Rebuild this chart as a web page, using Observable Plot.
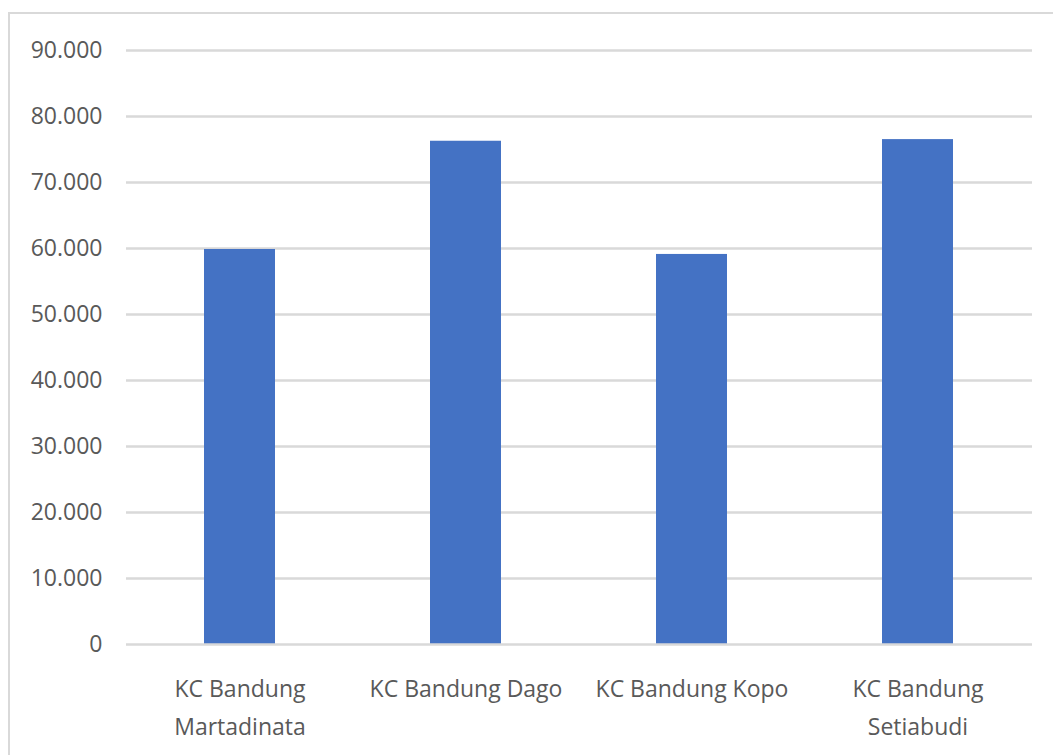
<!DOCTYPE html>
<html>
<head>
<meta charset="utf-8">
<script src="https://cdn.jsdelivr.net/npm/d3@7"></script>
<script src="https://cdn.jsdelivr.net/npm/@observablehq/plot@0.6"></script>
<style>
  html, body { margin: 0; padding: 0; background: #fff; }
  #wrap { position: relative; width: 1053px; height: 755px; overflow: hidden; }
  #border { position: absolute; left: 8px; top: 12px; width: 1100px; height: 800px;
            border-left: 2px solid #d9d9d9; border-top: 2px solid #d9d9d9; box-sizing: border-box; }
  #chart { position: absolute; left: 0; top: 0; }
  #chart text { fill: #595959; }
</style>
</head>
<body>
<div id="wrap">
  <div id="border"></div>
  <div id="chart"></div>
</div>
<script>
// Branches (KC = Kantor Cabang) and their values
const branches = ["KC Bandung Martadinata", "KC Bandung Dago", "KC Bandung Kopo", "KC Bandung Setiabudi"];
const branchLabels = ["KC Bandung\nMartadinata", "KC Bandung Dago", "KC Bandung Kopo", "KC Bandung\nSetiabudi"];
const values = [59850, 76250, 59100, 76500];
const yTicks = [0, 10000, 20000, 30000, 40000, 50000, 60000, 70000, 80000, 90000];

const rows = branches.map((b, i) => ({branch: b, value: values[i]}));

// Indonesian number format: "." as thousands separator
const idFormat = d3.formatLocale({decimal: ",", thousands: ".", grouping: [3], currency: ["Rp", ""]}).format(",");
const labelOf = new Map(branches.map((b, i) => [b, branchLabels[i]]));

const font = "Open Sans, Lato, sans-serif";

const chart = Plot.plot({
  width: 1053,
  height: 755,
  marginLeft: 126,
  marginRight: 21,
  marginTop: 50,
  marginBottom: 111,
  style: {fontFamily: font, fontSize: "23px", color: "#595959", background: "transparent"},
  x: {domain: branches, paddingInner: 0.684, paddingOuter: 0.342, label: null},
  y: {domain: [0, 90000], label: null},
  marks: [
    Plot.ruleY(yTicks.slice(1), {stroke: "#d9d9d9", strokeWidth: 2.5, strokeOpacity: 1}),
    Plot.barY(rows, {x: "branch", y: "value", fill: "#4472C4"}),
    Plot.ruleY([0], {stroke: "#d9d9d9", strokeWidth: 2.5, strokeOpacity: 1}),
    Plot.axisY({ticks: yTicks, tickSize: 0, tickPadding: 24, tickFormat: idFormat, fontSize: 23, label: null}),
    Plot.axisX({tickSize: 0, tickPadding: 26, tickFormat: d => labelOf.get(d), lineHeight: 1.65, fontSize: 23, label: null})
  ]
});
document.getElementById("chart").appendChild(chart);
</script>
</body>
</html>
